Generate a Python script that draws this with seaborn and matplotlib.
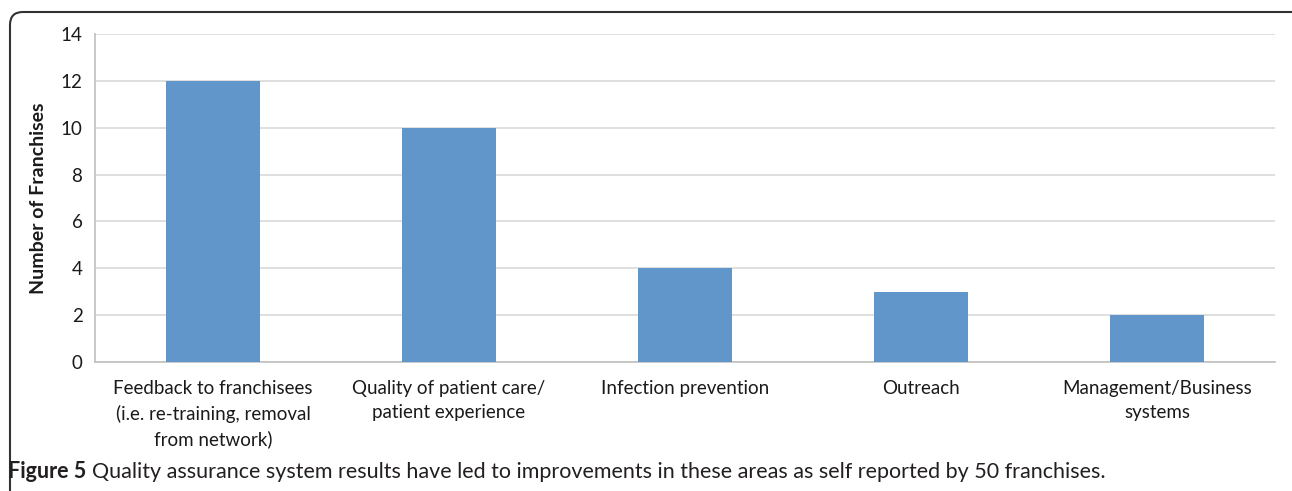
import matplotlib
matplotlib.use("Agg")
import matplotlib.pyplot as plt
from matplotlib.patches import FancyBboxPatch
import pandas as pd
import seaborn as sns

areas = [
    "Feedback to franchisees\n(i.e. re-training, removal\nfrom network)",
    "Quality of patient care/\npatient experience",
    "Infection prevention",
    "Outreach",
    "Management/Business\nsystems",
]
franchises = [12, 10, 4, 3, 2]
yticks = [0, 2, 4, 6, 8, 10, 12, 14]

df = pd.DataFrame({"area": areas, "count": franchises})

sns.set_style("white")
plt.rcParams["font.family"] = ["Lato", "DejaVu Sans"]

fig = plt.figure(figsize=(12.92, 4.91), dpi=100)
ax = fig.add_axes([95 / 1292, 1 - 362 / 491, 1180 / 1292, 328 / 491])

sns.barplot(data=df, x="area", y="count", color="#6096C9", width=0.4,
            saturation=1, linewidth=0, ax=ax, zorder=3)

ax.set_ylim(0, 14)
ax.set_yticks(yticks)
ax.set_xlim(-0.5, len(areas) - 0.5)
ax.yaxis.grid(True, color="#D9D9D9", linewidth=1.2, zorder=0)
ax.set_axisbelow(True)
for s in ["top", "right"]:
    ax.spines[s].set_visible(False)
for s in ["left", "bottom"]:
    ax.spines[s].set_color("#BFBFBF")
    ax.spines[s].set_linewidth(1.2)

ax.tick_params(axis="y", length=5, color="#BFBFBF", labelsize=13.5, pad=4,
               labelcolor="#1a1a1a")
ax.tick_params(axis="x", length=0, labelsize=13.5, pad=13, labelcolor="#1a1a1a")
for lbl in ax.get_xticklabels():
    lbl.set_linespacing(1.5)
# category boundary ticks
ax.set_xticks([i - 0.5 for i in range(len(areas) + 1)], minor=True)
ax.tick_params(axis="x", which="minor", length=6, color="#BFBFBF", direction="out")

ax.set_xlabel("")
ax.set_ylabel("Number of Franchises", fontsize=14, fontweight="bold", labelpad=10,
              color="#1a1a1a")

# rounded frame around the figure
frame = FancyBboxPatch((10 / 1292, -0.05), 1.1, 1 - 12 / 491 + 0.05,
                       boxstyle="round,pad=0,rounding_size=0.01",
                       mutation_aspect=1292 / 491,
                       transform=fig.transFigure, fill=False,
                       edgecolor="#333333", linewidth=1.5, clip_on=False)
fig.patches.append(frame)

fig.text(8 / 1292, 1 - 472 / 491, "Figure 5", fontsize=15.5, fontweight="bold",
         color="#231F20", va="center")
fig.text(92 / 1292, 1 - 472 / 491,
         "Quality assurance system results have led to improvements in these areas as self reported by 50 franchises.",
         fontsize=15.5, color="#231F20", va="center")

fig.savefig("out.png", dpi=100)
